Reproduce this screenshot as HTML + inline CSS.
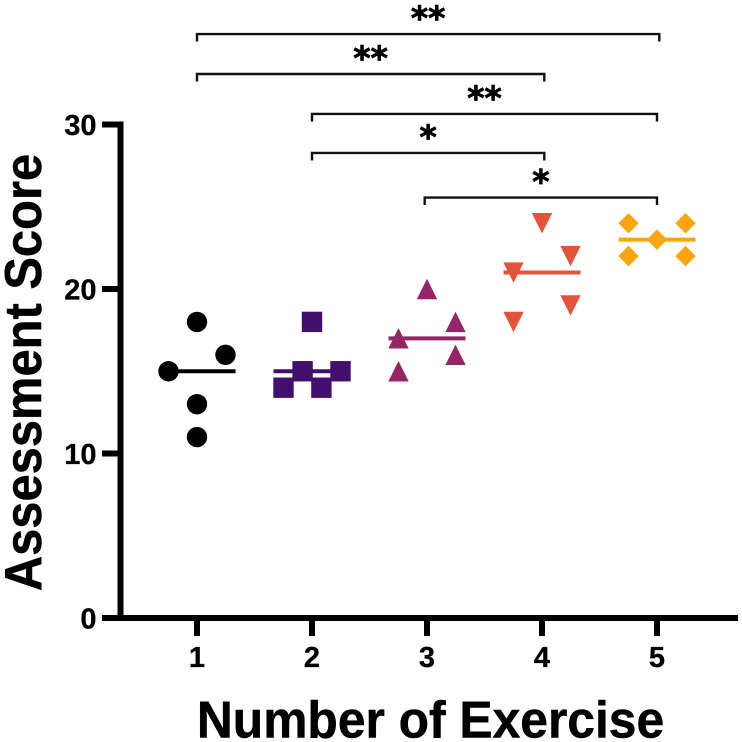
<!DOCTYPE html>
<html lang="en">
<head>
<meta charset="utf-8">
<title>Assessment Score by Number of Exercise</title>
<style>
html,body{margin:0;padding:0;background:#fff;width:742px;height:742px;overflow:hidden}
svg{display:block}
text{font-family:"Liberation Sans",Arial,sans-serif;font-weight:bold;fill:#000}
.stars{font-family:"DejaVu Sans",sans-serif;stroke:#000;stroke-width:0.8}
.tick-text{stroke:#000;stroke-width:0.3}
.title-text{stroke:#000;stroke-width:0.5}
</style>
</head>
<body>
<svg id="chart" xmlns="http://www.w3.org/2000/svg" width="742" height="742" viewBox="0 0 742 742">
  <rect width="742" height="742" fill="#ffffff"/>
  <g id="brackets"></g>
  <g id="means"></g>
  <g id="points"></g>
  <g id="axes"></g>
</svg>
<script>
// Categories and y ticks
const categories = [1, 2, 3, 4, 5];
const yTicks = [0, 10, 20, 30];

// Scores per exercise group
const scores1 = [18, 16, 15, 13, 11];
const scores2 = [18, 15, 15, 14, 14];
const scores3 = [20, 18, 17, 16, 15];
const scores4 = [24, 22, 21, 19, 18];
const scores5 = [24, 24, 23, 22, 22];

// Swarm slot for each score (side-by-side placement within a group)
const slots1 = [0, 1, -1, 0, 0];
const slots2 = [0, -0.33, 1, -1, 0.33];
const slots3 = [0, 1, -1, 1, -1];
const slots4 = [0, 1, -1, 1, -1];
const slots5 = [-1, 1, 0, -1, 1];

// Centre line per group
const centerValues = [15, 15, 17, 21, 23];

// Significance comparisons
const bracketStart = [1, 1, 2, 2, 2.98];
const bracketEnd = [5.02, 4.02, 5, 4.02, 5];
const bracketLevel = [35.5, 33.07, 30.64, 28.27, 25.56];
const bracketLabels = ['**', '**', '**', '*', '*'];

const seriesScores = [scores1, scores2, scores3, scores4, scores5];
const seriesSlots = [slots1, slots2, slots3, slots4, slots5];
const seriesColors = ['#000000', '#430f6e', '#952567', '#e1533a', '#fca50f'];
const seriesShapes = ['circle', 'square', 'triangle-up', 'triangle-down', 'diamond'];

const NS = 'http://www.w3.org/2000/svg';
const xScale = v => 197 + (v - 1) * 115;
const yScale = v => 618 - v * 16.45;
const SLOT = 28.5;
const R = 10.2;

function make(tag, parent, attrs) {
  const el = document.createElementNS(NS, tag);
  for (const k in attrs) el.setAttribute(k, attrs[k]);
  parent.appendChild(el);
  return el;
}

// Brackets
const bracketGroup = document.getElementById('brackets');
bracketLabels.forEach((label, i) => {
  const x1 = xScale(bracketStart[i]);
  const x2 = xScale(bracketEnd[i]);
  const y = yScale(bracketLevel[i]);
  const path = make('path', bracketGroup, {
    d: `M${x1} ${y + 7.5}V${y}H${x2}V${y + 7.5}`,
    fill: 'none', stroke: '#111', 'stroke-width': 2.4
  });
  
  
  const t = make('text', bracketGroup, {
    x: (x1 + x2) / 2, y: y - 4.5, 'text-anchor': 'middle', 'font-size': 33, class: 'stars'
  });
  
  
  t.textContent = label;
});

// Centre lines
const meanGroup = document.getElementById('means');
categories.forEach((c, i) => {
  const line = make('line', meanGroup, {
    x1: xScale(c) - 38.5, x2: xScale(c) + 38.5,
    y1: yScale(centerValues[i]), y2: yScale(centerValues[i]),
    stroke: seriesColors[i], 'stroke-width': 4
  });
  
  
});

// Points
function drawPoint(parent, shape, cx, cy, color) {
  let el;
  if (shape === 'circle') {
    el = make('circle', parent, { cx, cy, r: R, fill: color });
  } else if (shape === 'square') {
    el = make('rect', parent, { x: cx - R, y: cy - R, width: 2 * R, height: 2 * R, fill: color });
  } else if (shape === 'triangle-up') {
    el = make('polygon', parent, { points: `${cx},${cy - R} ${cx + R},${cy + R} ${cx - R},${cy + R}`, fill: color });
  } else if (shape === 'triangle-down') {
    el = make('polygon', parent, { points: `${cx},${cy + R} ${cx + R},${cy - R} ${cx - R},${cy - R}`, fill: color });
  } else {
    el = make('polygon', parent, { points: `${cx},${cy - R} ${cx + R},${cy} ${cx},${cy + R} ${cx - R},${cy}`, fill: color });
  }
  return el;
}
const pointGroup = document.getElementById('points');
categories.forEach((c, i) => {
  seriesScores[i].forEach((v, j) => {
    const cx = xScale(c) + seriesSlots[i][j] * SLOT;
    const p = drawPoint(pointGroup, seriesShapes[i], cx, yScale(v), seriesColors[i]);
    
    
  });
});

// Axes
const axes = document.getElementById('axes');
const yAxisLine = make('line', axes, { x1: 120.5, x2: 120.5, y1: yScale(30) - 3, y2: 621, stroke: '#000', 'stroke-width': 6 });


const xAxisLine = make('line', axes, { x1: 102, x2: 738, y1: 618, y2: 618, stroke: '#000', 'stroke-width': 6 });



yTicks.forEach(v => {
  const tick = make('line', axes, { x1: 102, x2: 120, y1: yScale(v), y2: yScale(v), stroke: '#000', 'stroke-width': 6 });
  
  
  const label = make('text', axes, { x: 96.5, y: yScale(v) + 10.5, 'text-anchor': 'end', 'font-size': 29, class: 'tick-text' });
  
  
  label.textContent = v;
});
categories.forEach(c => {
  const tick = make('line', axes, { x1: xScale(c), x2: xScale(c), y1: 618, y2: 636, stroke: '#000', 'stroke-width': 6 });
  
  
  const label = make('text', axes, { x: xScale(c), y: 667, 'text-anchor': 'middle', 'font-size': 29, class: 'tick-text' });
  
  
  label.textContent = c;
});

const xTitle = make('text', axes, { transform: 'translate(430.5 737.5) scale(0.957 1)', 'text-anchor': 'middle', 'font-size': 52, class: 'title-text' });


xTitle.textContent = 'Number of Exercise';

const yTitle = make('text', axes, { transform: 'translate(41 372.5) rotate(-90) scale(0.94 1)', 'text-anchor': 'middle', 'font-size': 52, class: 'title-text' });


yTitle.textContent = 'Assessment Score';
</script>
</body>
</html>
